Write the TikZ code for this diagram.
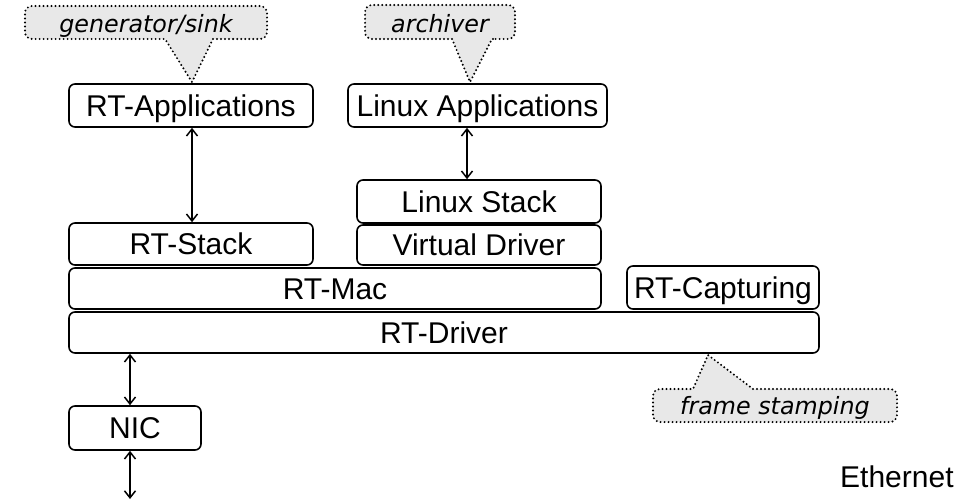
\documentclass[tikz,border=0pt]{standalone}
\usepackage{fontspec}
\setmainfont{Liberation Sans}
\newfontfamily\cfont{DejaVu Sans}
\usetikzlibrary{arrows.meta}
\definecolor{calloutgray}{HTML}{E8E8E8}
\tikzset{
  box/.style={draw, rectangle, rounded corners=6pt, line width=1.6pt, inner sep=0pt,
    font=\fontsize{30}{36}\selectfont, text height=21.5pt, text depth=0pt},
  callout/.style={draw, fill=calloutgray, line width=2.2pt, dash pattern=on 0pt off 4pt, line cap=round},
  ctext/.style={inner sep=0pt, font=\cfont\itshape\fontsize{23.8}{28}\selectfont, text height=17.5pt, text depth=0pt},
  link/.style={line width=1.5pt, {Straight Barb[length=7pt,width=11pt,line width=1.5pt]}-{Straight Barb[length=7pt,width=11pt,line width=1.5pt]}}
}
\begin{document}
\begin{tikzpicture}[x=1pt,y=-1pt]
\useasboundingbox (0,0) rectangle (965,499);
% callouts
\draw[callout] (240,39) -- (213,39) -- (192,82) -- (165,39) [rounded corners=7pt] -- (25,39) -- (25,6) -- (267,6) -- (267,39) -- cycle;
\node[ctext] (gen) at (146,23.5) {generator/sink};
\draw[callout] (500,39) -- (492,39) -- (470,82) -- (452,39) [rounded corners=7pt] -- (365,39) -- (365,5) -- (515,5) -- (515,39) -- cycle;
\node[ctext] (arch) at (440,23.5) {archiver};
\draw[callout] (800,389) -- (753,389) -- (708,355) -- (693,389) [rounded corners=7pt] -- (653,389) -- (653,422) -- (897,422) -- (897,389) -- cycle;
\node[ctext] (frame) at (775,406) {frame stamping};
% boxes
\node[box, minimum width=244pt, minimum height=43pt] (rtapp) at (191,105.5) {RT-Applications};
\node[box, minimum width=259pt, minimum height=43pt] (linapp) at (477.5,105.5) {Linux Applications};
\node[box, minimum width=244pt, minimum height=43pt] (linstack) at (479,201.5) {Linux Stack};
\node[box, minimum width=244pt, minimum height=40pt] (vdrv) at (479,245) {Virtual Driver};
\node[box, minimum width=244pt, minimum height=42pt] (rtstack) at (191,244) {RT-Stack};
\node[box, minimum width=532pt, minimum height=41pt] (rtmac) at (335,288.5) {RT-Mac};
\node[box, minimum width=192pt, minimum height=43pt] (rtcap) at (723,287.5) {RT-Capturing};
\node[box, minimum width=750pt, minimum height=41pt] (rtdrv) at (444,332.5) {RT-Driver};
\node[box, minimum width=132pt, minimum height=44pt] (nic) at (135,428) {NIC};
\node[anchor=base west, inner sep=0pt, font=\fontsize{30}{36}\selectfont] (eth) at (840,487) {Ethernet};
\coordinate (wire) at (130,499);
% connectors
\draw[link] (rtapp.south -| 192,0) -- (rtstack.north -| 192,0);
\draw[link] (linapp.south -| 467,0) -- (linstack.north -| 467,0);
\draw[link] (rtdrv.south -| 130,0) -- (nic.north -| 130,0);
\draw[link] (nic.south -| 130,0) -- (wire);
\end{tikzpicture}
\end{document}
